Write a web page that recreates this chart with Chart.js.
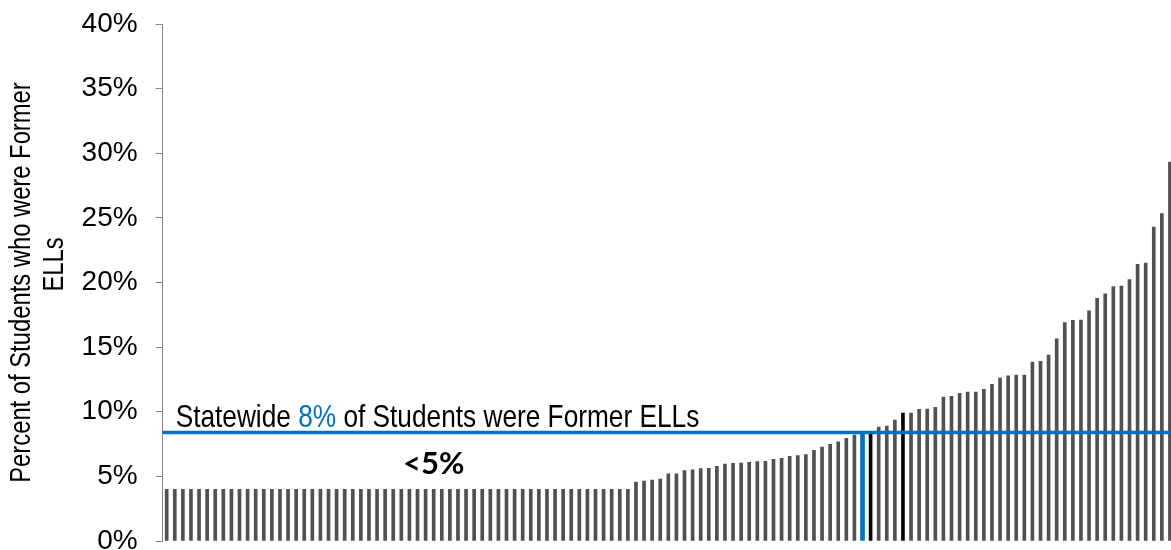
<!DOCTYPE html>
<html>
<head>
<meta charset="utf-8">
<script src="https://cdn.jsdelivr.net/npm/chart.js@4.4.1/dist/chart.umd.min.js"></script>
<style>
  html, body { margin: 0; padding: 0; background: #ffffff; overflow: hidden; }
  #wrap { width: 1174px; height: 550px; }
  canvas { display: block; }
</style>
</head>
<body>
<div id="wrap"><canvas id="c" width="1174" height="550"></canvas></div>
<script>
// ---- Data ----
const districtValues = [
  4, 4, 4, 4, 4, 4, 4, 4, 4, 4,
  4, 4, 4, 4, 4, 4, 4, 4, 4, 4,
  4, 4, 4, 4, 4, 4, 4, 4, 4, 4,
  4, 4, 4, 4, 4, 4, 4, 4, 4, 4,
  4, 4, 4, 4, 4, 4, 4, 4, 4, 4,
  4, 4, 4, 4, 4, 4, 4, 4,
  4.56, 4.64, 4.72, 4.80, 5.20, 5.20, 5.44, 5.50, 5.60, 5.62,
  5.78, 5.95, 6.01, 6.03, 6.09, 6.14, 6.16, 6.32, 6.40, 6.55,
  6.60, 6.68, 7.02, 7.27, 7.48, 7.68, 7.94, 8.20, null, 8.40,
  8.82, 8.90, 9.36, 9.90, 9.90, 10.19, 10.21, 10.34, 11.14, 11.19,
  11.42, 11.53, 11.53, 11.73, 12.12, 12.61, 12.77, 12.84, 12.84, 13.85,
  13.90, 14.38, 15.64, 16.90, 17.08, 17.10, 17.80, 18.77, 19.12, 19.68,
  19.72, 20.22, 21.40, 21.50, 24.29, 25.33, 29.32
];
const categories = districtValues.map((v, i) => 'District ' + (i + 1));
const highlightedDistricts = [87, 91];     // black bars
const statewideIndex = 86;                  // blue statewide bar slot
const statewideValue = 8.4;                 // statewide percent
const statewideLabel = ['Statewide ', '8%', ' of Students were Former ELLs'];
const suppressedLabel = '<5%';
const yTicks = [0, 5, 10, 15, 20, 25, 30, 35, 40];
const yTitle = ['Percent of Students who were Former', 'ELLs'];

const statewideBar = categories.map((c, i) => i === statewideIndex ? statewideValue : null);

const BLUE = '#0070C0';
const GRAY = '#505050';
const SANS = '"Liberation Sans", Arial, Helvetica, sans-serif';
const NARROW = 0.82; // horizontal condensing to mimic a narrow face

const annotate = {
  id: 'annotate',
  afterDatasetsDraw(chart) {
    const { ctx, chartArea, scales: { x, y } } = chart;
    const ly = y.getPixelForValue(statewideValue);
    ctx.save();
    // statewide horizontal line
    ctx.strokeStyle = BLUE;
    ctx.lineWidth = 3.5;
    ctx.beginPath();
    ctx.moveTo(chartArea.left, ly);
    ctx.lineTo(chartArea.right, ly);
    ctx.stroke();
    ctx.restore();

    // statewide caption (condensed)
    ctx.save();
    ctx.translate(chartArea.left + 13, ly - 5);
    ctx.scale(NARROW, 1);
    ctx.font = '32px ' + SANS;
    ctx.textBaseline = 'alphabetic';
    ctx.textAlign = 'left';
    let tx = 0;
    statewideLabel.forEach((part, i) => {
      ctx.fillStyle = i === 1 ? BLUE : '#000000';
      ctx.fillText(part, tx, 0);
      tx += ctx.measureText(part).width;
    });
    ctx.restore();

    // <5% label
    ctx.save();
    ctx.font = 'bold 31px Lato, "Open Sans", sans-serif';
    ctx.fillStyle = '#000000';
    ctx.textAlign = 'center';
    ctx.textBaseline = 'alphabetic';
    ctx.fillText(suppressedLabel, x.getPixelForValue(33), y.getPixelForValue(5.2));
    ctx.restore();

    // y-axis title (rotated, condensed, two lines)
    const cy = (y.top + y.bottom) / 2;
    const lines = [{ t: yTitle[0], x: 22, y: cy }, { t: yTitle[1], x: 55, y: cy - 18 }];
    lines.forEach(l => {
      ctx.save();
      ctx.translate(l.x, l.y);
      ctx.rotate(-Math.PI / 2);
      ctx.scale(NARROW, 1);
      ctx.font = '29px ' + SANS;
      ctx.fillStyle = '#000000';
      ctx.textAlign = 'center';
      ctx.textBaseline = 'middle';
      ctx.fillText(l.t, 0, 0);
      ctx.restore();
    });
  }
};

new Chart(document.getElementById('c'), {
  type: 'bar',
  data: {
    labels: categories,
    datasets: [
      {
        label: 'Districts',
        data: districtValues,
        backgroundColor: districtValues.map((v, i) => highlightedDistricts.includes(i) ? '#000000' : GRAY),
        barThickness: 3,
        order: 2
      },
      {
        label: 'Statewide',
        data: statewideBar,
        backgroundColor: BLUE,
        barThickness: 4,
        order: 1
      }
    ]
  },
  options: {
    responsive: false,
    animation: false,
    devicePixelRatio: 1,
    layout: { padding: { top: 24, bottom: 9, left: 0, right: 0 } },
    datasets: { bar: { grouped: false } },
    plugins: { legend: { display: false }, tooltip: { enabled: false } },
    scales: {
      x: { display: false, offset: true },
      y: {
        min: 0,
        max: 40,
        afterBuildTicks(scale) { scale.ticks = yTicks.map(v => ({ value: v })); },
        afterFit(scale) {
          scale.width = 162.65;
          scale.paddingTop = 0;
          scale.paddingBottom = 0;
        },
        ticks: {
          callback: v => v + '%',
          color: '#000000',
          padding: 18,
          font: { family: SANS, size: 28, lineHeight: 1 }
        },
        grid: { drawOnChartArea: false, drawTicks: true, tickLength: 7, color: '#868686' },
        border: { display: true, color: '#868686', width: 1 },
        title: { display: false }
      }
    }
  },
  plugins: [annotate]
});
</script>
</body>
</html>
